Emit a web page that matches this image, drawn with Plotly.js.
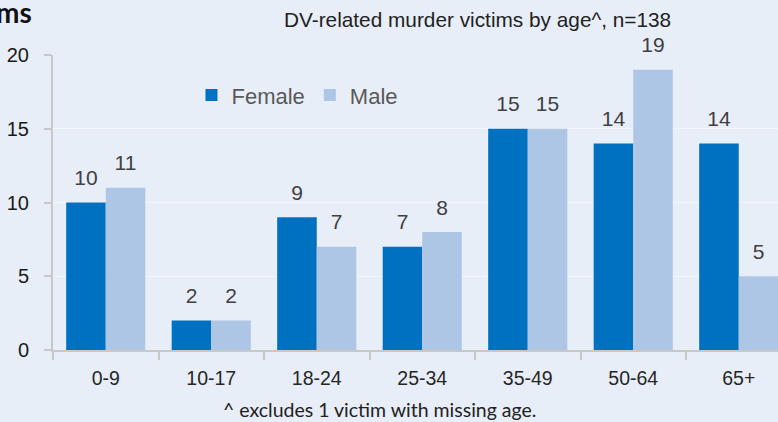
<!DOCTYPE html>
<html>
<head>
<meta charset="utf-8">
<script src="https://cdn.plot.ly/plotly-3.0.1.min.js"></script>
<style>html,body{margin:0;padding:0;background:#E8EEF7;}#chart{width:778px;height:422px;}</style>
</head>
<body>
<div id="chart"></div>
<script>
const categories = ["0-9", "10-17", "18-24", "25-34", "35-49", "50-64", "65+"];
const female = [10, 2, 9, 7, 15, 14, 14];
const male = [11, 2, 7, 8, 15, 19, 5];
const yTicks = [0, 5, 10, 15, 20];

const arial = "Arial, Liberation Sans, sans-serif";
const labelFont = {family: arial, size: 21, color: "#404040"};

const traces = [
  {type: "bar", name: "Female", x: categories, y: female, offsetgroup: "f",
   marker: {color: "#0070C0", line: {width: 0}}, hoverinfo: "skip"},
  {type: "bar", name: "Male", x: categories, y: male, offsetgroup: "m",
   marker: {color: "#AEC6E5", line: {width: 0}}, hoverinfo: "skip"},
  {type: "scatter", mode: "markers+text", x: categories, y: female, offsetgroup: "f",
   text: female.map(String), textposition: "top center", textfont: labelFont,
   marker: {size: 18, color: "rgba(0,0,0,0)"}, cliponaxis: false, showlegend: false, hoverinfo: "skip"},
  {type: "scatter", mode: "markers+text", x: categories, y: male, offsetgroup: "m",
   text: male.map(String), textposition: "top center", textfont: labelFont,
   marker: {size: 18, color: "rgba(0,0,0,0)"}, cliponaxis: false, showlegend: false, hoverinfo: "skip"}
];

const layout = {
  width: 778, height: 422,
  paper_bgcolor: "#E8EEF7", plot_bgcolor: "#E8EEF7",
  margin: {l: 53, r: 0, t: 55, b: 72},
  barmode: "group", bargap: 0.25, bargroupgap: 0,
  scattermode: "group", scattergap: 0.25,
  showlegend: true,
  legend: {orientation: "h", x: 0.191, y: 0.864, xanchor: "left", yanchor: "middle",
           bgcolor: "rgba(0,0,0,0)", font: {family: arial, size: 22, color: "#595959"},
           itemwidth: 30, tracegroupgap: 0},
  xaxis: {type: "category", range: [-0.5, 6.372], showgrid: false,
          showline: true, linecolor: "#C8C8C8", linewidth: 2,
          ticks: "outside", tickson: "boundaries", ticklen: 8, tickcolor: "#C8C8C8", tickwidth: 2,
          tickfont: {family: arial, size: 19.5, color: "#262626"},
          ticklabelstandoff: 10, fixedrange: true},
  yaxis: {range: [0, 20], tickvals: yTicks, ticktext: yTicks.map(String),
          showgrid: true, gridcolor: "#F2F5FA", gridwidth: 1, zeroline: false,
          showline: true, linecolor: "#C8C8C8", linewidth: 2,
          ticks: "outside", ticklen: 7, tickcolor: "#C8C8C8", tickwidth: 2,
          tickfont: {family: arial, size: 20, color: "#1a1a1a"},
          ticklabelstandoff: 11, fixedrange: true},
  annotations: [
    {text: "DV-related murder victims by age^, n=138", xref: "paper", yref: "paper",
     x: 0.585, y: 1, xanchor: "center", yanchor: "bottom", yshift: 22, showarrow: false,
     font: {family: arial, size: 20.8, color: "#222222"}},
    {text: "<b>Victims</b>", xref: "paper", yref: "paper",
     x: -0.026, y: 1, xanchor: "right", yanchor: "bottom", yshift: 24, showarrow: false,
     font: {family: "Lato, Open Sans, sans-serif", size: 28, color: "#111111"}},
    {text: "^ excludes 1 victim with missing age.", xref: "paper", yref: "paper",
     x: 0.451, y: 0, xanchor: "center", yanchor: "top", yshift: -46, showarrow: false,
     font: {family: "Lato, Open Sans, sans-serif", size: 19.5, color: "#222222"}}
  ]
};

Plotly.newPlot("chart", traces, layout, {displayModeBar: false, staticPlot: true});
</script>
</body>
</html>
